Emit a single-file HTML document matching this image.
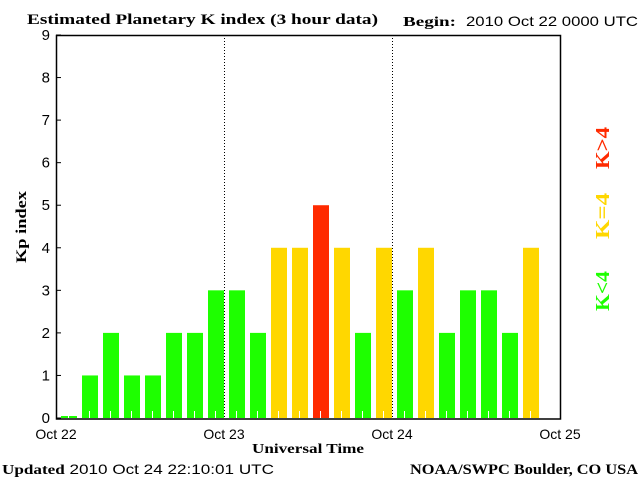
<!DOCTYPE html>
<html><head><meta charset="utf-8"><style>
html,body{margin:0;padding:0;background:#fff;}
svg{display:block;}
text{font-family:"Liberation Sans",sans-serif;}
.serif{font-family:"Liberation Serif",serif;font-weight:bold;}
</style></head><body>
<svg id="chart" width="640" height="480" xmlns="http://www.w3.org/2000/svg">
<rect width="640" height="480" fill="#fff"/>
<text class="serif" x="27" y="24" font-size="15" textLength="351" lengthAdjust="spacingAndGlyphs">Estimated Planetary K index (3 hour data)</text>
<text class="serif" x="403" y="26" font-size="14" textLength="53" lengthAdjust="spacingAndGlyphs">Begin:</text>
<text x="466" y="26" font-size="14" textLength="172" lengthAdjust="spacingAndGlyphs">2010 Oct 22 0000 UTC</text>
<g id="bars"></g>
<g id="axes"></g>
<text class="serif" transform="translate(26,227) rotate(-90)" text-anchor="middle" font-size="15" textLength="72" lengthAdjust="spacingAndGlyphs">Kp index</text>
<text class="serif" x="308" y="453" text-anchor="middle" font-size="14" textLength="112" lengthAdjust="spacingAndGlyphs">Universal Time</text>
<text x="2" y="474" font-size="14" textLength="272" lengthAdjust="spacingAndGlyphs"><tspan class="serif">Updated</tspan> 2010 Oct 24 22:10:01 UTC</text>
<text class="serif" x="410" y="474" font-size="15" textLength="228" lengthAdjust="spacingAndGlyphs">NOAA/SWPC Boulder, CO USA</text>
<text class="serif" transform="translate(609,148) rotate(-90)" text-anchor="middle" font-size="20" fill="#ff2a00" textLength="42" lengthAdjust="spacingAndGlyphs">K&gt;4</text>
<text class="serif" transform="translate(609,216) rotate(-90)" text-anchor="middle" font-size="20" fill="#ffd700" textLength="46" lengthAdjust="spacingAndGlyphs">K=4</text>
<text class="serif" transform="translate(609,291) rotate(-90)" text-anchor="middle" font-size="20" fill="#1eff00" textLength="40" lengthAdjust="spacingAndGlyphs">K&lt;4</text>
</svg>
<script>
const kpValues=[0,1,2,1,1,2,2,3,3,2,4,4,5,4,2,4,3,4,2,3,3,2,4];
const yTicks=[0,1,2,3,4,5,6,7,8,9];
const dayLabels=["Oct 22","Oct 23","Oct 24","Oct 25"];
const NS="http://www.w3.org/2000/svg";
const L=56,R=560,T=35,B=418;
const slotsPerDay=8,days=3;
const xSlot=i=>L+(R-L)*i/(slotsPerDay*days);
const y=v=>B-(B-T)*v/9;
function mk(tag,attrs,parent){const e=document.createElementNS(NS,tag);for(const k in attrs)e.setAttribute(k,attrs[k]);parent.appendChild(e);return e;}
const bars=document.getElementById('bars'),axes=document.getElementById('axes');
kpValues.forEach((v,i)=>{
  const x=xSlot(i)+5,w=16;
  const col=v>4?'#ff2a00':(v==4?'#ffd700':'#1eff00');
  const top=v==0?B-2:y(v);
  const r=mk('rect',{x:x,y:top,width:w,height:B-top,fill:col},bars);
  
  
  const t=mk('rect',{x:x+7,y:B-7,width:1,height:7,fill:'#fff'},bars);
  
  
});
for(let d=1;d<days;d++){
  const x=xSlot(d*slotsPerDay)+0.5;
  const l=mk('line',{x1:x,y1:T,x2:x,y2:B,stroke:'#000','stroke-dasharray':'1,2'},axes);
  
  
}
const fr=mk('rect',{x:L+0.5,y:T+0.5,width:R-L,height:B-T+0.5,fill:'none',stroke:'#000','stroke-width':1.5},axes);


yTicks.forEach(v=>{
  const yy=y(v);
  const tk=mk('line',{x1:L,y1:yy,x2:L+5,y2:yy,stroke:'#000'},axes);
  
  
  const t=mk('text',{x:L-6,y:yy+5,'text-anchor':'end','font-size':15},axes);
  t.textContent=v;
  
  
});
dayLabels.forEach((s,d)=>{
  const t=mk('text',{x:xSlot(d*slotsPerDay),y:439,'text-anchor':'middle','font-size':14},axes);
  t.textContent=s;
  
  
});
</script>
</body></html>
